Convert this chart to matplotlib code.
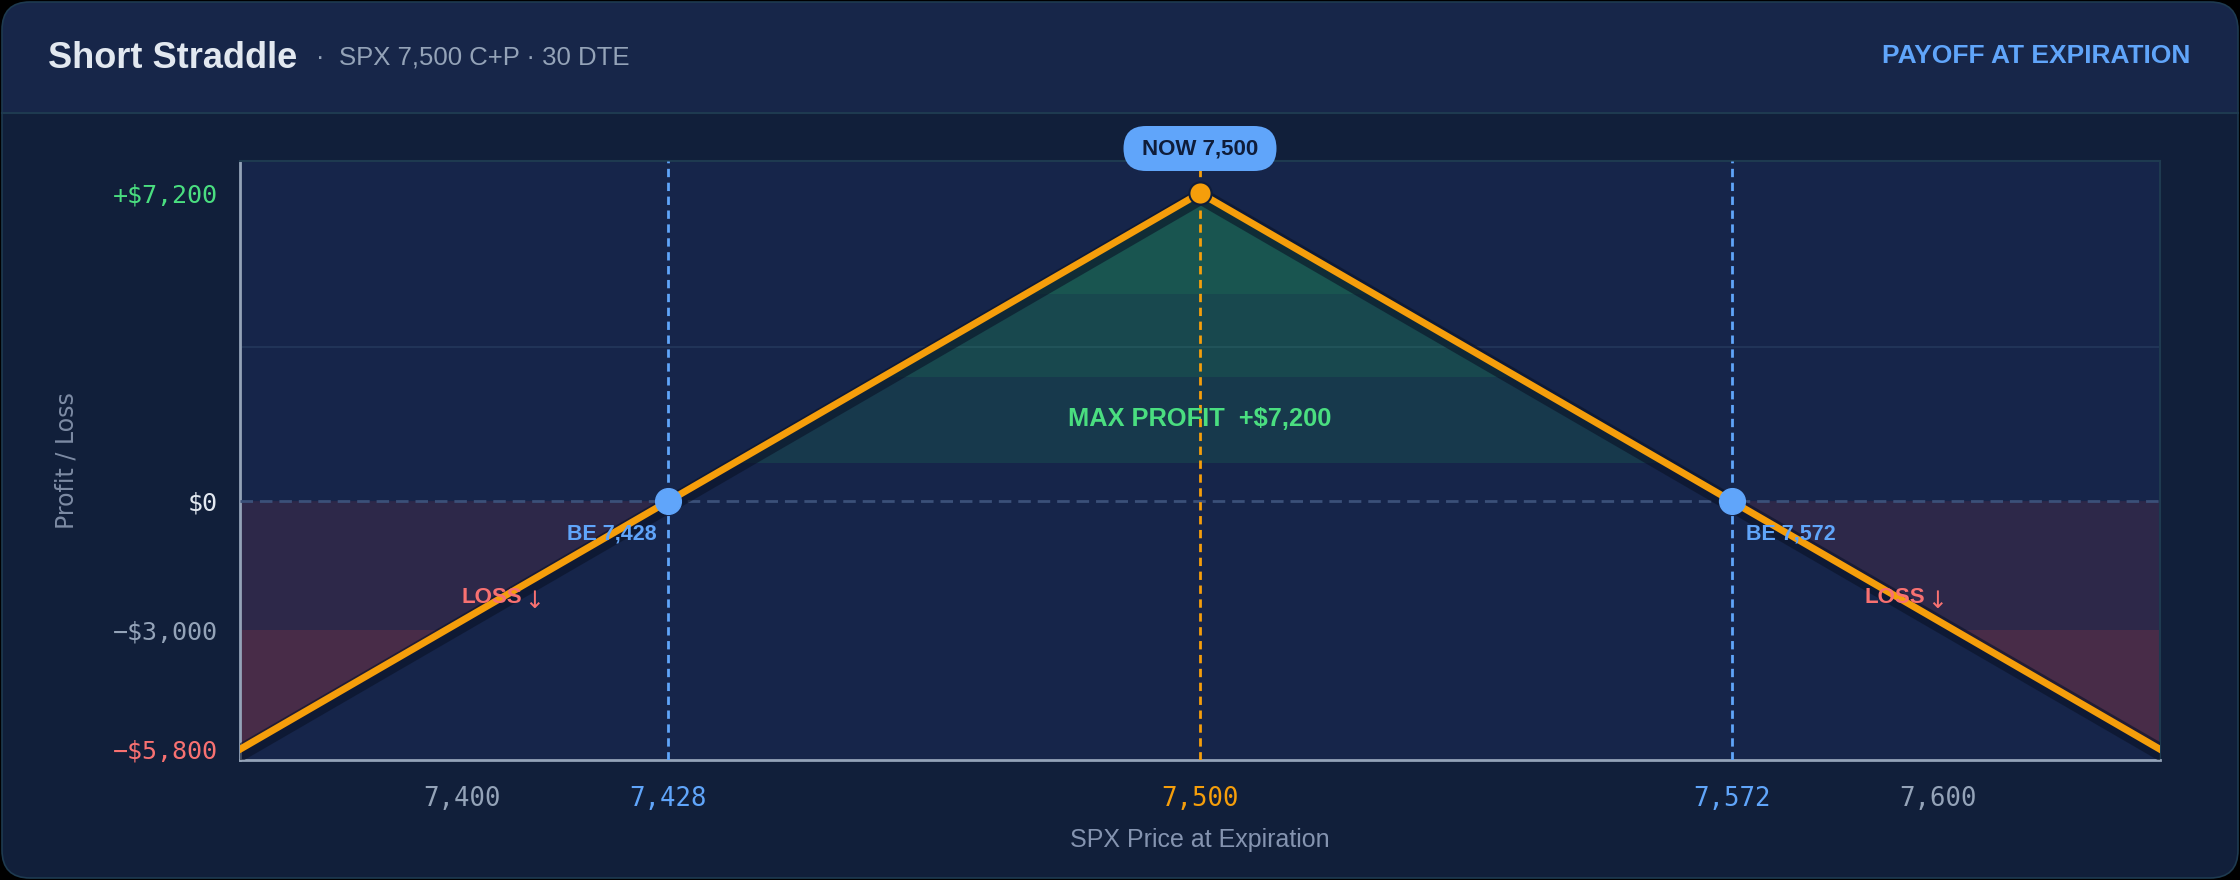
#!/usr/bin/env python3
"""Short straddle payoff diagram at expiration."""

import matplotlib
matplotlib.use('Agg')
import matplotlib.pyplot as plt
import matplotlib.patches as mpatches
import matplotlib.transforms as mtransforms
from matplotlib.lines import Line2D

# payoff data (SPX price -> P/L in $)
PRICES = [7370, 7428, 7500, 7572, 7630]
PNL = [-5800, 0, 7200, 0, -5800]
STRIKE = 7500
BREAKEVENS = [7428, 7572]
MAX_PROFIT = 7200
DTE = 30

X_TICKS = [7400, 7428, 7500, 7572, 7600]
X_TICK_LABELS = ['7,400', '7,428', '7,500', '7,572', '7,600']
Y_TICKS = [-5800, -3000, 0, 7200]
Y_TICK_LABELS = ['\u2212$5,800', '\u2212$3,000', '$0', '+$7,200']

# stepped gradient bands under the payoff line
PROFIT_BANDS = [900, 2900, 4850, 7200]
PROFIT_ALPHAS = [0.13, 0.22, 0.30]
LOSS_BANDS = [0, -3000, -5800]
LOSS_ALPHAS = [0.11, 0.23]

LOSS_LABELS_X = [7405, 7595]

W, H, DPI = 2240, 880, 100

HEADER = '#172649'
BODY = '#111f3a'
PLOT_BG = '#16254a'
EDGE = '#1e3a50'
BLUE = '#60a5fa'
ORANGE = '#f59e0b'
GREEN = '#4ade80'
RED = '#f87171'
SLATE = '#94a3b8'
LIGHT = '#e2e8f0'
NAVY = '#0f1d3a'

SANS = ['Liberation Sans', 'DejaVu Sans']
MONO = ['DejaVu Sans Mono']


def fy(y):
    return 1 - y / H


fig = plt.figure(figsize=(W / DPI, H / DPI), dpi=DPI, facecolor='black')
inch = fig.dpi_scale_trans

# card, header and body (inches)
card = mpatches.FancyBboxPatch((0.02, 0.02), 22.36, 8.76,
                               boxstyle='round,pad=0,rounding_size=0.28',
                               transform=inch, fc=BODY, ec='none', zorder=-10)
fig.add_artist(card)
hdr_y = (H - 113) / DPI
header = mpatches.FancyBboxPatch((0.02, hdr_y), 22.36, 8.78 - hdr_y,
                                 boxstyle='round,pad=0,rounding_size=0.28',
                                 transform=inch, fc=HEADER, ec='none', zorder=-9)
fig.add_artist(header)
fig.add_artist(mpatches.Rectangle((0.02, hdr_y), 22.36, 0.4, transform=inch,
                                  fc=HEADER, ec='none', zorder=-9))
fig.add_artist(Line2D([0.02, 22.38], [hdr_y, hdr_y], transform=inch,
                      color=EDGE, lw=1.5, zorder=-8))
border = mpatches.FancyBboxPatch((0.02, 0.02), 22.36, 8.76,
                                 boxstyle='round,pad=0,rounding_size=0.28',
                                 transform=inch, fc='none', ec=EDGE, lw=1.2, zorder=-7)
fig.add_artist(border)

# header text
fig.text(48 / W, fy(68), 'Short Straddle', va='baseline', ha='left',
         family=SANS, fontweight='bold', fontsize=26, color=LIGHT)
fig.text(316 / W, fy(65), '\u00b7', va='baseline', ha='left',
         family=SANS, fontsize=18.5, color=SLATE)
fig.text(339 / W, fy(65), f'SPX {STRIKE:,} C+P \u00b7 {DTE} DTE', va='baseline',
         ha='left', family=SANS, fontsize=18.5, color=SLATE)
fig.text(2190 / W, fy(63), 'PAYOFF AT EXPIRATION', va='baseline', ha='right',
         family=SANS, fontweight='bold', fontsize=19, color=BLUE)

ax = fig.add_axes([240 / W, fy(760), 1920 / W, 599 / H])
ax.set_facecolor(PLOT_BG)
ax.set_xlim(PRICES[0], PRICES[-1])
ax.set_ylim(-6050, 7950)

# grid / reference lines
ax.axhline(MAX_PROFIT / 2, color='#24385c', lw=1.2, zorder=1)
ax.axhline(0, color='#3b5079', lw=2, dashes=(4.5, 2.5), zorder=3)

# profit fill: bands clipped to the triangle above zero
profit_pts = [(p, v) for p, v in zip(PRICES, PNL) if v >= 0]
profit_poly = mpatches.Polygon(profit_pts, closed=True, transform=ax.transData)
for lo, hi, a in zip(PROFIT_BANDS[:-1], PROFIT_BANDS[1:], PROFIT_ALPHAS):
    band = ax.axhspan(lo, hi, color='#22c55e', alpha=a, lw=0, zorder=2)
    band.set_clip_path(profit_poly)

# loss fills: both tails
loss_polys = [
    mpatches.Polygon([(PRICES[0], 0), (PRICES[0], PNL[0]), (PRICES[1], PNL[1])],
                     closed=True, transform=ax.transData),
    mpatches.Polygon([(PRICES[3], PNL[3]), (PRICES[4], PNL[4]), (PRICES[4], 0)],
                     closed=True, transform=ax.transData),
]
for poly in loss_polys:
    for hi, lo, a in zip(LOSS_BANDS[:-1], LOSS_BANDS[1:], LOSS_ALPHAS):
        band = ax.axhspan(lo, hi, color='#ef4444', alpha=a, lw=0, zorder=2)
        band.set_clip_path(poly)

# vertical markers
for b in BREAKEVENS:
    ax.axvline(b, color=BLUE, lw=2, dashes=(3, 2), zorder=3)
ax.axvline(STRIKE, color=ORANGE, lw=2, dashes=(3, 2), zorder=3)

# payoff line with shadow
shadow_tr = ax.transData + mtransforms.ScaledTranslation(0.01, -0.03, inch)
ax.plot(PRICES, PNL, color='#0a1226', lw=12, alpha=0.6, transform=shadow_tr,
        solid_joinstyle='miter', zorder=4)
ax.plot(PRICES, PNL, color=ORANGE, lw=5, solid_joinstyle='miter', zorder=5)

ax.plot(BREAKEVENS, [0] * len(BREAKEVENS), 'o', ms=18.5, color=BLUE, mec=BLUE,
        zorder=6)
ax.plot([STRIKE], [MAX_PROFIT], 'o', ms=16, color=ORANGE, mec=NAVY, mew=1.5,
        zorder=6, clip_on=False)

# annotations
ax.annotate(f'BE {BREAKEVENS[0]:,}', (BREAKEVENS[0], 0), xytext=(-12, -33),
            textcoords='offset pixels', ha='right', va='center', family=SANS,
            fontweight='bold', fontsize=15.5, color=BLUE, zorder=7)
ax.annotate(f'BE {BREAKEVENS[1]:,}', (BREAKEVENS[1], 0), xytext=(14, -33),
            textcoords='offset pixels', ha='left', va='center', family=SANS,
            fontweight='bold', fontsize=15.5, color=BLUE, zorder=7)
for lx in LOSS_LABELS_X:
    ax.annotate('LOSS', (lx, -2260), xytext=(24, 0), textcoords='offset pixels',
                ha='right', va='center', family=SANS, fontweight='bold',
                fontsize=16, color=RED, zorder=7)
    ax.annotate('\u2193', (lx, -2260), xytext=(36, -3), textcoords='offset pixels',
                ha='center', va='center', family=['DejaVu Sans'],
                fontsize=17, color=RED, zorder=7)
ax.text(STRIKE, 1917, f'MAX PROFIT  +${MAX_PROFIT:,}', ha='center', va='center',
        family=SANS, fontweight='bold', fontsize=18.3, color=GREEN, zorder=7)

# "NOW" pill above the plot
pill_y = (760 - 148.5) / 599
pill_tr = inch + mtransforms.ScaledTranslation(STRIKE, pill_y, ax.get_xaxis_transform())
pill = mpatches.FancyBboxPatch((-0.765, -0.225), 1.53, 0.45,
                               boxstyle='round,pad=0,rounding_size=0.225',
                               transform=pill_tr, fc=BLUE, ec='none', zorder=8,
                               clip_on=False)
ax.add_artist(pill)
ax.text(STRIKE, pill_y, f'NOW {STRIKE:,}', transform=ax.get_xaxis_transform(),
        ha='center', va='center', family=SANS, fontweight='bold', fontsize=16,
        color=NAVY, zorder=9, clip_on=False)

# axes styling
ax.set_xticks(X_TICKS, X_TICK_LABELS)
ax.set_yticks(Y_TICKS, Y_TICK_LABELS)
ax.tick_params(axis='both', length=0)
ax.tick_params(axis='x', pad=19)
ax.tick_params(axis='y', pad=15.8)
for lab in ax.get_xticklabels() + ax.get_yticklabels():
    lab.set_family(MONO)
x_colors = [SLATE, BLUE, ORANGE, BLUE, SLATE]
for lab, c in zip(ax.get_xticklabels(), x_colors):
    lab.set_color(c)
    lab.set_fontsize(18.5)
y_colors = [RED, SLATE, LIGHT, GREEN]
for lab, c in zip(ax.get_yticklabels(), y_colors):
    lab.set_color(c)
    lab.set_fontsize(18)

for side in ['left', 'bottom']:
    ax.spines[side].set_color(SLATE)
    ax.spines[side].set_linewidth(2)
for side in ['top', 'right']:
    ax.spines[side].set_color(EDGE)
    ax.spines[side].set_linewidth(1.5)

fig.text(1200 / W, fy(840), 'SPX Price at Expiration', ha='center', va='center',
         family=SANS, fontsize=18, color='#8594b0')
fig.text(67 / W, fy(461), 'Profit / Loss', ha='center', va='center', rotation=90,
         family=['DejaVu Sans'], fontsize=17, color='#7d8ba4')

plt.savefig('out.png', dpi=DPI, facecolor='black')
print('Saved out.png')
